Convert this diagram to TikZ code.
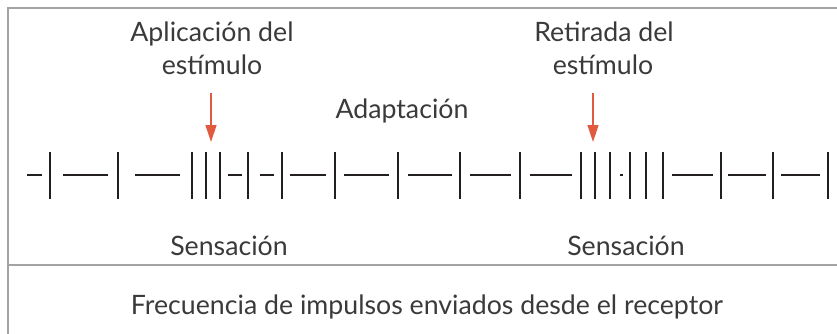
\documentclass[tikz,border=0pt]{standalone}
\usepackage{fontspec}
\setmainfont{Lato}
\usetikzlibrary{arrows.meta}
\definecolor{txt}{HTML}{3A3A3A}
\definecolor{frame}{HTML}{A3A3A3}
\definecolor{pulse}{HTML}{231F20}
\definecolor{arr}{HTML}{E05A40}
\begin{document}
\begin{tikzpicture}[x=1pt,y=-1pt,
  lbl/.style={font=\fontsize{26.7}{33}\selectfont, text=txt, anchor=base, inner sep=0pt, align=center},
  framel/.style={draw=frame, line width=2pt},
  pulsel/.style={draw=pulse, line width=2pt},
  stim/.style={draw=arr, line width=1.3pt, -{Triangle[length=17pt,width=11pt]}}]
\useasboundingbox (0,0) rectangle (837,334);
% frame
\draw[framel] (8,334) -- (8,8) -- (837,8);
\draw[framel] (8,265) -- (837,265);
% texts
\node[lbl] (apl) at (212,42) {Aplicación del};
\node[lbl] (apl2) at (212,75) {estímulo};
\node[lbl] (ret) at (604,42) {Retirada del};
\node[lbl] (ret2) at (603,75) {estímulo};
\node[lbl] (adap) at (402,118) {Adaptación};
\node[lbl] (sen1) at (229,255) {Sensación};
\node[lbl] (sen2) at (626,255) {Sensación};
\node[lbl] (freq) at (427,314) {Frecuencia de impulsos enviados desde el receptor};
% arrows
\coordinate (a1s) at (211,93); \coordinate (a1e) at (211,142);
\coordinate (a2s) at (593,93); \coordinate (a2e) at (593,142);
\draw[stim] (a1s) -- (a1e);
\draw[stim] (a2s) -- (a2e);
% pulse train
\foreach \x in {50,118,192,206,220,248,282,335,398,460,520,581,595,610,630,646,663,721,773,828}
  \draw[pulsel] (\x,152) -- (\x,199);
\foreach \a/\b in {27/42,63/108,135/180,228/242,260/274,290/326,344/389,408/452,470/511,530/572,620/622.5,672/713,728/766,781/820}
  \draw[pulsel] (\a,175) -- (\b,175);
\end{tikzpicture}
\end{document}
